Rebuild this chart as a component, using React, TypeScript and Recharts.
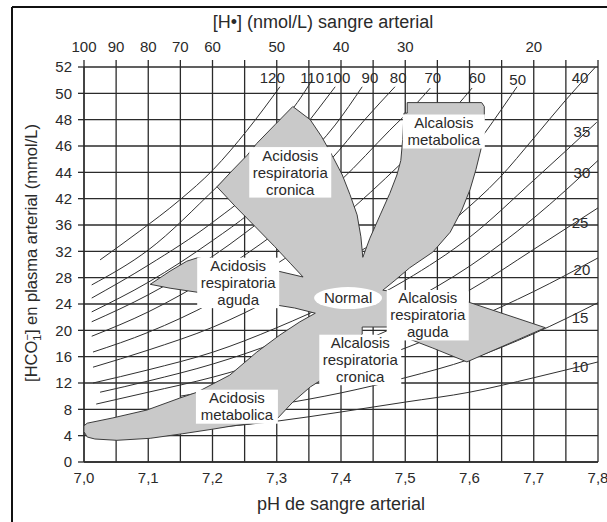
import { CartesianGrid, ComposedChart, Scatter, XAxis, YAxis } from "recharts";

const W = 607;
const H = 522;
const FONT = '"Liberation Sans", Arial, Helvetica, sans-serif';
const INK = "#2a2a2a";
const GRID = "#2b2b2b";
const SHADE = "#c9c9c9";
const EDGE = "#3c3c3c";

// bottom axis: pH, grid every 0.05, labels every 0.1
const phTicks = [7, 7.05, 7.1, 7.15, 7.2, 7.25, 7.3, 7.35, 7.4, 7.45, 7.5, 7.55, 7.6, 7.65, 7.7, 7.75, 7.8];
const phLabelTicks = [7, 7.1, 7.2, 7.3, 7.4, 7.5, 7.6, 7.7, 7.8];
const phTickLabels = ["7,0", "7,1", "7,2", "7,3", "7,4", "7,5", "7,6", "7,7", "7,8"];

// top axis: [H+] nmol/L, placed on the pH grid lines
const hydrogenTickPh = [7, 7.05, 7.1, 7.15, 7.2, 7.3, 7.4, 7.5, 7.7];
const hydrogenTickLabels = ["100", "90", "80", "70", "60", "50", "40", "30", "20"];

// left axis: HCO3 labels, one per grid row (the printed scale is not uniform)
const hco3TickLabels = [0, 4, 8, 12, 16, 20, 24, 28, 32, 36, 42, 44, 46, 48, 50, 52];

// PCO2 isobars, [pH, HCO3 mmol/L]
const pco2_120 = [[7.025, 30.7], [7.087, 35.1], [7.149, 41.7], [7.201, 44.2], [7.254, 47.2], [7.305, 50.5]];
const pco2_110 = [[7.012, 26.9], [7.1, 32.2], [7.207, 42.9], [7.274, 46.1], [7.332, 49.3], [7.355, 51.0]];
const pco2_100 = [[7.012, 24.9], [7.1, 29.9], [7.201, 36.7], [7.274, 43.2], [7.336, 47.0], [7.391, 50.5]];
const pco2_90 = [[7.012, 22.8], [7.1, 27.3], [7.201, 33.7], [7.258, 38.7], [7.336, 44.6], [7.391, 47.6], [7.433, 50.5]];
const pco2_80 = [[7.012, 21.3], [7.1, 25.4], [7.201, 31.3], [7.3, 39.9], [7.383, 44.9], [7.437, 48.0], [7.484, 50.5]];
const pco2_70 = [[7.012, 19.1], [7.1, 22.8], [7.201, 28.3], [7.3, 34.9], [7.4, 43.4], [7.476, 47.2], [7.515, 49.1], [7.539, 50.4]];
const pco2_60 = [[7.014, 16.7], [7.1, 19.7], [7.201, 24.3], [7.3, 30.1], [7.4, 37.6], [7.492, 44.6], [7.554, 47.6], [7.604, 50.4]];
const pco2_50 = [[7.014, 14.4], [7.1, 17.0], [7.201, 20.5], [7.3, 25.1], [7.4, 30.4], [7.5, 36.7], [7.562, 43.0], [7.624, 47.0], [7.674, 50.5]];
const pco2_40 = [[7.014, 12.0], [7.1, 14.0], [7.201, 16.7], [7.3, 20.4], [7.4, 24.9], [7.5, 30.7], [7.581, 37.8], [7.647, 43.6], [7.7, 46.6], [7.75, 49.5], [7.798, 52.1]];
const pco2_35 = [[7.025, 10.6], [7.1, 12.3], [7.201, 14.9], [7.3, 18.2], [7.4, 22.5], [7.5, 27.6], [7.601, 34.2], [7.7, 43.4], [7.798, 47.8]];
const pco2_30 = [[7.019, 8.8], [7.1, 10.6], [7.201, 12.9], [7.3, 15.8], [7.4, 19.4], [7.5, 24.0], [7.601, 29.8], [7.7, 37.6], [7.8, 44.9]];
const pco2_25 = [[7.15, 10.0], [7.2, 10.9], [7.3, 13.7], [7.4, 17.0], [7.5, 21.2], [7.6, 26.1], [7.7, 32.3], [7.8, 39.9]];
const pco2_20 = [[7.25, 9.9], [7.3, 11.1], [7.4, 14.0], [7.5, 17.3], [7.6, 21.4], [7.7, 25.9], [7.8, 31.0]];
const pco2_15 = [[7.2, 7.3], [7.3, 8.7], [7.4, 10.5], [7.5, 12.8], [7.6, 15.6], [7.7, 19.5], [7.8, 24.2]];
const pco2_10 = [[7.2, 5.2], [7.3, 6.2], [7.4, 7.6], [7.5, 9.1], [7.6, 10.6], [7.7, 12.8], [7.8, 15.2]];

const isobars = [pco2_120, pco2_110, pco2_100, pco2_90, pco2_80, pco2_70, pco2_60, pco2_50, pco2_40, pco2_35, pco2_30, pco2_25, pco2_20, pco2_15, pco2_10];

// isobar numbers [text, pH, HCO3]
const isobarTags: [string, number, number][] = [
  ["120", 7.293, 51.2], ["110", 7.355, 51.2], ["100", 7.395, 51.2], ["90", 7.445, 51.2],
  ["80", 7.489, 51.2], ["70", 7.543, 51.2], ["60", 7.612, 51.2], ["50", 7.675, 51.0],
  ["40", 7.772, 51.2], ["35", 7.775, 47.1], ["30", 7.775, 44.0], ["25", 7.772, 36.5],
  ["20", 7.775, 29.2], ["15", 7.772, 21.9], ["10", 7.772, 14.4],
];

// outline of the shaded confidence bands, [pH, HCO3], clockwise from the top of the
// chronic respiratory acidosis arm
const bandOutline = [
  [7.325, 49.0], [7.352, 48.0], [7.37, 46.7], [7.386, 45.3], [7.402, 43.8], [7.414, 42.3],
  [7.425, 38.3], [7.431, 34.2], [7.434, 31.1], [7.445, 34.0], [7.461, 38.3], [7.476, 42.4],
  [7.487, 43.8], [7.493, 44.9], [7.496, 46.5], [7.498, 48.5], [7.503, 48.5], [7.503, 49.3],
  [7.619, 49.3], [7.623, 49.0], [7.623, 48.4], [7.618, 45.8], [7.61, 44.2], [7.601, 42.7],
  [7.588, 39.4], [7.57, 34.9], [7.543, 31.9], [7.507, 29.5], [7.484, 27.6], [7.465, 26.1],
  [7.598, 24.3], [7.718, 20.4], [7.596, 15.2], [7.543, 17.3], [7.503, 18.8], [7.484, 19.6],
  [7.473, 19.6], [7.473, 20.5], [7.433, 20.5], [7.433, 19.4], [7.383, 15.5], [7.37, 12.5],
  [7.352, 11.4], [7.325, 9.1], [7.302, 6.7], [7.266, 5.9], [7.232, 5.5], [7.201, 5.0],
  [7.154, 4.3], [7.103, 3.6], [7.051, 3.3], [7.017, 3.5], [7.005, 3.8], [7.0, 4.6],
  [7.0, 5.5], [7.005, 5.9], [7.045, 6.7], [7.098, 7.9], [7.149, 9.7], [7.176, 10.6],
  [7.227, 13.2], [7.269, 16.7], [7.305, 19.3], [7.336, 21.3], [7.36, 22.6], [7.328, 23.4],
  [7.302, 23.8], [7.243, 24.9], [7.176, 25.8], [7.134, 26.4], [7.103, 27.0], [7.134, 29.0],
  [7.16, 30.5], [7.176, 31.0], [7.243, 30.1], [7.302, 29.0], [7.341, 28.1], [7.321, 30.2],
  [7.297, 32.7], [7.266, 35.8], [7.235, 40.3], [7.207, 42.9], [7.23, 44.1], [7.254, 45.3],
  [7.269, 46.2], [7.297, 47.6],
];

const regionLabels = [
  { ph: 7.321, hco3: 44.0, lines: ["Acidosis", "respiratoria", "cronica"] },
  { ph: 7.24, hco3: 27.2, lines: ["Acidosis", "respiratoria", "aguda"] },
  { ph: 7.56, hco3: 47.1, lines: ["Alcalosis", "metabolica"] },
  { ph: 7.535, hco3: 22.3, lines: ["Alcalosis", "respiratoria", "aguda"] },
  { ph: 7.43, hco3: 15.5, lines: ["Alcalosis", "respiratoria", "cronica"] },
  { ph: 7.238, hco3: 8.4, lines: ["Acidosis", "metabolica"] },
];
const normalPoint = { ph: 7.411, hco3: 24.9, text: "Normal" };

// HCO3 value -> grid row, linear between printed labels
function toRow(v: number) {
  const t = hco3TickLabels;
  for (let i = 0; i < t.length - 1; i++) {
    if (v <= t[i + 1] || i === t.length - 2) return i + (v - t[i]) / (t[i + 1] - t[i]);
  }
  return 0;
}

const toPoints = (series: number[][]) => series.map(([ph, v]) => ({ x: ph, y: toRow(v) }));

const near = (a: number, b: number) => Math.abs(a - b) < 1e-6;
const phLabel = (ph: number) => {
  const i = phLabelTicks.findIndex((p) => near(p, ph));
  return i >= 0 ? phTickLabels[i] : "";
};
const hydrogenLabel = (ph: number) => {
  const i = hydrogenTickPh.findIndex((p) => near(p, ph));
  return i >= 0 ? hydrogenTickLabels[i] : "";
};
const rowLabel = (row: number) => String(hco3TickLabels[Math.round(row)] ?? "");

const renderNothing = () => <g />;

const renderBand = (props: any) => {
  const pts = (props.points ?? []) as { x: number; y: number }[];
  if (!pts.length) return <g />;
  const d = pts.map((p, i) => `${i ? "L" : "M"}${p.x.toFixed(1)},${p.y.toFixed(1)}`).join("") + "Z";
  return <path d={d} fill={SHADE} stroke={EDGE} strokeWidth={1} strokeLinejoin="round" />;
};

const renderLabelBox = (props: any) => {
  const { cx, cy, payload } = props;
  const lines: string[] = payload.lines;
  const h = lines.length * 16.5 + 1;
  return (
    <g>
      <rect x={cx - 41} y={cy - h / 2} width={82} height={h} fill="#fff" />
      <text textAnchor="middle" fontSize={15} fill={INK} fontFamily={FONT}>
        {lines.map((t, i) => (
          <tspan key={i} x={cx} y={cy + (i - (lines.length - 1) / 2) * 17} dy="0.35em">
            {t}
          </tspan>
        ))}
      </text>
    </g>
  );
};

const renderNormal = (props: any) => {
  const { cx, cy, payload } = props;
  return (
    <g>
      <ellipse cx={cx} cy={cy} rx={34} ry={11} fill="#fff" />
      <text x={cx} y={cy} dy="0.35em" textAnchor="middle" fontSize={15} fill={INK} fontFamily={FONT}>
        {payload.text}
      </text>
    </g>
  );
};

const renderTag = (props: any) => {
  const { cx, cy, payload } = props;
  return (
    <text x={cx} y={cy} dy="0.35em" textAnchor="middle" fontSize={15} fill={INK} fontFamily={FONT}>
      {payload.text}
    </text>
  );
};

export default function App() {
  const tickStyle = { fontSize: 15, fill: INK, fontFamily: FONT };
  return (
    <div style={{ position: "absolute", left: 0, top: 0, width: W, height: H, background: "#fff", fontFamily: FONT }}>
      <ComposedChart width={W} height={H} margin={{ top: 37, right: 9, bottom: 30, left: 24 }}>
        <CartesianGrid stroke={GRID} strokeWidth={1.3} />
        <XAxis
          dataKey="x"
          type="number"
          domain={[7, 7.8]}
          allowDataOverflow
          ticks={phTicks}
          interval={0}
          tickFormatter={phLabel}
          tick={tickStyle}
          tickLine={false}
          tickSize={6}
          tickMargin={4}
          axisLine={{ stroke: GRID, strokeWidth: 1.3 }}
          height={30}
        />
        <XAxis
          xAxisId="top"
          orientation="top"
          dataKey="x"
          type="number"
          domain={[7, 7.8]}
          allowDataOverflow
          ticks={phTicks}
          interval={0}
          tickFormatter={hydrogenLabel}
          tick={tickStyle}
          tickLine={{ stroke: GRID, strokeWidth: 1.3 }}
          tickSize={7}
          tickMargin={8}
          axisLine={false}
          height={30}
        />
        <YAxis
          dataKey="y"
          type="number"
          domain={[0, 15]}
          allowDataOverflow
          ticks={hco3TickLabels.map((_, i) => i)}
          interval={0}
          tickFormatter={rowLabel}
          tick={tickStyle}
          tickLine={{ stroke: GRID, strokeWidth: 1.3 }}
          tickSize={6}
          tickMargin={6}
          axisLine={{ stroke: GRID, strokeWidth: 1.3 }}
          width={60}
        />
        {isobars.map((s, i) => (
          <Scatter
            key={`iso-${i}`}
            data={toPoints(s)}
            line={{ stroke: "#303030", strokeWidth: 1 }}
            lineJointType="monotoneX"
            shape={renderNothing}
            isAnimationActive={false}
          />
        ))}
        <Scatter data={toPoints(bandOutline)} line={renderBand} shape={renderNothing} isAnimationActive={false} />
        <Scatter
          data={regionLabels.map((l) => ({ x: l.ph, y: toRow(l.hco3), lines: l.lines }))}
          shape={renderLabelBox}
          isAnimationActive={false}
        />
        <Scatter
          data={[{ x: normalPoint.ph, y: toRow(normalPoint.hco3), text: normalPoint.text }]}
          shape={renderNormal}
          isAnimationActive={false}
        />
        <Scatter
          data={isobarTags.map(([text, ph, v]) => ({ x: ph, y: toRow(v), text }))}
          shape={renderTag}
          isAnimationActive={false}
        />
      </ComposedChart>
      <svg width={W} height={H} style={{ position: "absolute", left: 0, top: 0, pointerEvents: "none" }}>
        <line x1={12} y1={7} x2={W} y2={7} stroke="#111" strokeWidth={2} />
        <line x1={12} y1={7} x2={12} y2={H} stroke="#111" strokeWidth={2} />
        <text x={323} y={28} textAnchor="middle" fontSize={18} fill={INK} fontFamily={FONT}>
          [H•] (nmol/L) sangre arterial
        </text>
        <text x={341} y={510} textAnchor="middle" fontSize={18} fill={INK} fontFamily={FONT}>
          pH de sangre arterial
        </text>
        <text transform="translate(31,253) rotate(-90)" textAnchor="middle" fontSize={16.5} fill={INK} fontFamily={FONT} dy="0.35em">
          [HCO
          <tspan fontSize={11} dy={4}>1</tspan>
          <tspan fontSize={11} dx={-6} dy={-10}>−</tspan>
          <tspan dy={6}>] en plasma arterial (mmol/L)</tspan>
        </text>
      </svg>
    </div>
  );
}
